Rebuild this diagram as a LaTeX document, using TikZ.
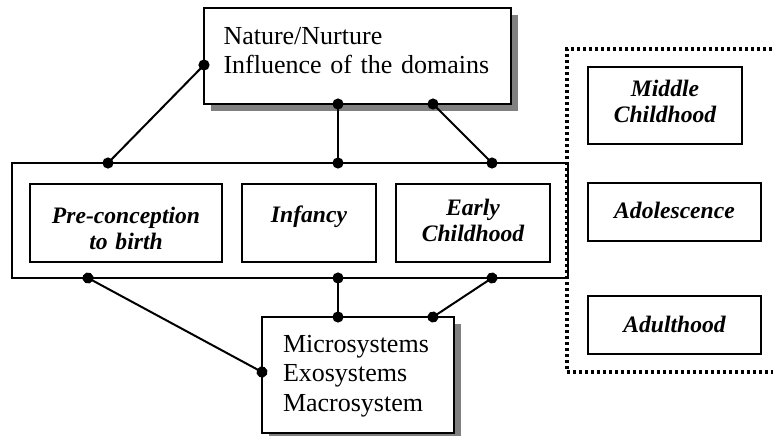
\documentclass[tikz,border=0pt]{standalone}
\usepackage{fontspec}
\setmainfont{Liberation Serif}
\usetikzlibrary{arrows.meta, positioning, shadows}

\begin{document}
\begin{tikzpicture}[
    x=0.5pt, y=-0.5pt,
    node distance=10pt,
    textbox/.style={rectangle, draw, fill=white, line width=1pt, outer sep=0pt, inner ysep=0pt, align=left, font=\fontsize{13}{14.9}\selectfont,
        drop shadow={shadow xshift=3.5pt, shadow yshift=-3.5pt, fill=black!50, opacity=1}},
    stage/.style={rectangle, draw, fill=white, line width=1pt, outer sep=0pt, inner sep=0pt, align=center, font=\fontsize{11.8}{13.3}\selectfont\bfseries\itshape},
    band/.style={rectangle, draw, line width=1pt, outer sep=0pt, inner sep=0pt},
    later/.style={line width=1.7pt, dash pattern=on 1.5pt off 1.5pt},
    link/.style={{Circle[length=5.5pt]}-{Circle[length=5.5pt]}, line width=1pt, shorten <=-2.75pt, shorten >=-2.75pt}
]
    \useasboundingbox (0,0) rectangle (773,435);
    \clip (0,0) rectangle (773,435);

    % Influences
    \node[textbox, text width=134pt, inner xsep=9.75pt, text height=18pt, text depth=30pt] (nature) at (357.5,56) {Nature/Nurture\\\mbox{Influence of the domains}};

    % Early stages
    \node[band, minimum width=278pt, minimum height=57.5pt] (stages) at (290,220.5) {};
    \node[stage, text width=96pt, text height=19.5pt, text depth=19.5pt] (pre) at (126,223) {Pre-conception\\to birth};
    \node[stage, right=of pre, text width=67pt, text height=19pt, text depth=20pt] (inf) {Infancy};
    \node[stage, right=of inf, text width=77pt, text height=15.5pt, text depth=23.5pt] (early) {Early\\Childhood};

    % Later stages
    \node[stage, text width=77pt, text height=14.5pt, text depth=24pt] (mid) at (665,105.5) {Middle\\Childhood};
    \node[stage, below=19.5pt of mid.south west, anchor=north west, text width=86.5pt, text height=17.8pt, text depth=11.2pt] (ado) {Adolescence};
    \node[stage, below=27.5pt of ado.south west, anchor=north west, text width=86.5pt, text height=18.3pt, text depth=10.7pt] (adult) {Adulthood};
    \draw[later] (790,49) -| (567,372) -- (790,372);

    % Systems
    \node[textbox, text width=75pt, inner xsep=10.5pt, text height=17.5pt, text depth=40.5pt] (micro) at (358,375) {Microsystems\\Exosystems\\Macrosystem};

    % Connectors
    \coordinate (n1) at ([xshift=-9.75pt]nature.south);
    \coordinate (n2) at ([xshift=37.75pt]nature.south);
    \draw[link] ([yshift=-4.5pt]nature.west) -- ([xshift=-91pt]stages.north);
    \draw[link] (n1) -- (n1 |- stages.north);
    \draw[link] (n2) -- ([xshift=101pt]stages.north);
    \draw[link] ([xshift=-101pt]stages.south) -- ([yshift=1.5pt]micro.west);
    \draw[link] (n1 |- stages.south) -- (n1 |- micro.north);
    \draw[link] ([xshift=101pt]stages.south) -- (n2 |- micro.north);
\end{tikzpicture}
\end{document}
